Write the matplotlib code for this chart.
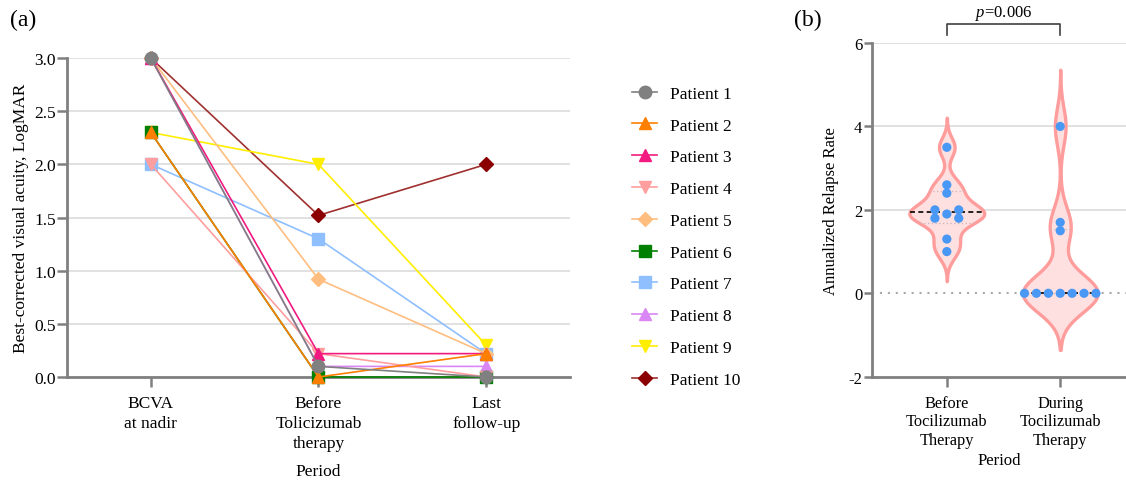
import numpy as np
import matplotlib.pyplot as plt
from matplotlib.lines import Line2D
from matplotlib.ticker import FormatStrFormatter

plt.rcParams['font.family'] = ['Liberation Serif', 'DejaVu Serif']
plt.rcParams['axes.unicode_minus'] = False
plt.rcParams['mathtext.fontset'] = 'custom'
plt.rcParams['mathtext.rm'] = 'Liberation Serif'
plt.rcParams['mathtext.it'] = 'Liberation Serif:italic'

# ---- data -------------------------------------------------------------------
periods = ['BCVA\nat nadir', 'Before\nTolicizumab\ntherapy', 'Last\nfollow-up']
patients = [f'Patient {i}' for i in range(1, 11)]
bcva_nadir = [3.0, 2.3, 3.0, 2.0, 3.0, 2.3, 2.0, 3.0, 2.3, 3.0]
bcva_before = [0.1, 0.0, 0.22, 0.22, 0.92, 0.0, 1.3, 0.1, 2.0, 1.52]
bcva_last = [0.0, 0.22, 0.22, 0.0, 0.22, 0.0, 0.22, 0.1, 0.3, 2.0]

groups = ['Before\nTocilizumab\nTherapy', 'During\nTocilizumab\nTherapy']
arr_before = [3.5, 2.6, 2.4, 1.9, 2.0, 2.0, 1.8, 1.8, 1.3, 1.0]
arr_during = [4.0, 1.7, 1.5, 0.0, 0.0, 0.0, 0.0, 0.0, 0.0, 0.0]
p_value = '0.006'

# ---- styles -----------------------------------------------------------------
colors = ['#808080', '#FF7F00', '#F21A80', '#FF9E9E', '#FFBE80',
          '#008000', '#8FBFFF', '#DA86F5', '#FFEE00', '#8B0000']
line_colors = colors[:9] + ['#A03030']
markers = ['o', '^', '^', 'v', 'D', 's', 's', '^', 'v', 'D']
msizes = [9, 9, 9, 9, 7, 8, 8, 9, 9, 7]
axis_grey = '#808080'
grid_grey = '#DCDCDC'

fig = plt.figure(figsize=(11.26, 4.81), dpi=100)

# ---- (a) visual acuity per patient -------------------------------------------
ax1 = fig.add_axes([0.0595, 0.2141, 0.4467, 0.6632])
x = np.arange(len(periods))
for i in reversed(range(len(patients))):
    ax1.plot(x, [bcva_nadir[i], bcva_before[i], bcva_last[i]],
             color=line_colors[i], lw=1.2, marker=markers[i], ms=msizes[i],
             mfc=colors[i], mec=colors[i], clip_on=False, zorder=3)

ax1.set_xlim(-0.5, 2.5)
ax1.set_ylim(0, 3.0)
ax1.set_xticks(x)
ax1.set_xticklabels(periods, fontsize=12.5, linespacing=1.35)
ax1.set_yticks(np.arange(0, 3.01, 0.5))
ax1.yaxis.set_major_formatter(FormatStrFormatter('%.1f'))
ax1.tick_params(axis='y', labelsize=12.5, length=7, width=1.8, color=axis_grey, pad=1)
ax1.tick_params(axis='x', length=7, width=1.8, color=axis_grey, pad=6)
ax1.yaxis.grid(True, color=grid_grey, lw=1.2)
ax1.set_axisbelow(True)
for side in ('top', 'right'):
    ax1.spines[side].set_visible(False)
for side in ('left', 'bottom'):
    ax1.spines[side].set_color(axis_grey)
    ax1.spines[side].set_linewidth(2.0)
ax1.set_ylabel('Best-corrected visual acuity, LogMAR', fontsize=12.5, labelpad=4)
ax1.set_xlabel('Period', fontsize=12.5, labelpad=8)

handles = [Line2D([], [], color=line_colors[i], lw=1.2, marker=markers[i],
                  ms=msizes[i], mfc=colors[i], mec=colors[i])
           for i in range(len(patients))]
fig.legend(handles, patients, loc='upper left', bbox_to_anchor=(0.5613, 0.82),
           frameon=False, fontsize=12.5, handlelength=1.45, handletextpad=0.75,
           labelspacing=0.9, borderpad=0, borderaxespad=0)

# ---- (b) annualized relapse rate violins ------------------------------------
ax2 = fig.add_axes([0.7744, 0.2147, 0.2256, 0.6938])
ax2.set_xlim(-0.66, 1.58)
ax2.set_ylim(-2, 6)
yticks_b = [-2, 0, 2, 4, 6]

for t in yticks_b:
    if t > 0:
        ax2.axhline(t, color=grid_grey, lw=1.2, zorder=0)
ax2.axhline(0, color='#A8A8A8', lw=1.5, ls=(0, (1, 2.8)), zorder=1)


def kde(vals, grid, bw):
    z = (grid[:, None] - np.asarray(vals)[None, :]) / bw
    return np.exp(-0.5 * z ** 2).sum(axis=1) / (len(vals) * bw * np.sqrt(2 * np.pi))


def swarm(vals, center, step, diam):
    placed, xs = [], []
    offsets = [0] + [s * j for j in range(1, 20) for s in (1, -1)]
    for v in vals:
        for c in offsets:
            px, py = ax2.transData.transform((center + c * step, v))
            if all(np.hypot(px - qx, py - qy) >= diam for qx, qy in placed):
                break
        placed.append((px, py))
        xs.append(center + c * step)
    return xs


half_width = 0.33
for pos, vals in enumerate([arr_before, arr_during]):
    vals = np.asarray(vals, dtype=float)
    bw = 0.34 * vals.std(ddof=1)
    grid = np.linspace(vals.min() - 3 * bw, vals.max() + 3 * bw, 600)
    dens = kde(vals, grid, bw)
    half = dens / dens.max() * half_width
    ax2.fill_betweenx(grid, pos - half, pos + half, facecolor='#FFE0E0',
                      edgecolor='#FF9C9C', lw=2.4, zorder=2)

    q1, med, q3 = np.percentile(vals, [25, 50, 75], method='weibull')
    for q in (q1, q3):
        w = np.interp(q, grid, half)
        ax2.plot([pos - w, pos + w], [q, q], color='#C8B4B4', lw=0.9,
                 ls=(0, (1, 2)), zorder=3)
    w = np.interp(med, grid, half)
    ax2.plot([pos - w, pos + w], [med, med], color='black', lw=1.2,
             ls=(0, (3, 2)), zorder=3)

    xs = swarm(vals, pos, 0.105, 7.5)
    ax2.scatter(xs, vals, s=44, color='#4A98F5', edgecolor='none', zorder=4)

ax2.set_xticks([0, 1])
ax2.set_xticklabels(groups, fontsize=11.8, linespacing=1.2)
ax2.set_yticks(yticks_b)
ax2.tick_params(axis='y', labelsize=12, length=6, width=1.8, color=axis_grey, pad=1)
ax2.tick_params(axis='x', length=7, width=1.8, color=axis_grey, pad=6)
for side in ('top', 'right'):
    ax2.spines[side].set_visible(False)
for side in ('left', 'bottom'):
    ax2.spines[side].set_color(axis_grey)
    ax2.spines[side].set_linewidth(2.0)
ax2.set_ylabel('Annualized Relapse Rate', fontsize=12, labelpad=7)
ax2.set_xlabel('Period', fontsize=12, labelpad=3)

# significance bracket
ax2.plot([0, 0, 1, 1], [6.19, 6.456, 6.456, 6.19], color='#404040', lw=1.2,
         clip_on=False)
ax2.text(0.5, 6.74, f'$p$={p_value}', fontsize=12, ha='center', va='center')

fig.text(0.009, 0.958, '(a)', fontsize=17, va='center')
fig.text(0.705, 0.958, '(b)', fontsize=17, va='center')

fig.savefig('out.png', dpi=100)
